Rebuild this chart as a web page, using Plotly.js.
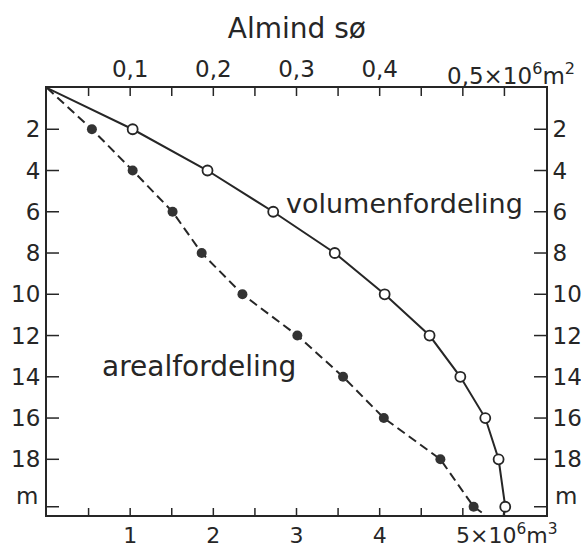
<!DOCTYPE html>
<html>
<head>
<meta charset="utf-8">
<script src="https://cdn.plot.ly/plotly-3.0.1.min.js"></script>
<style>html,body{margin:0;padding:0;background:#fff;}#chart{width:581px;height:548px;}</style>
</head>
<body>
<div id="chart"></div>
<script>
// depth in m (0 = surface, last value = bottom of axis)
const depth = [0, 2, 4, 6, 8, 10, 12, 14, 16, 18, 20.3, 20.7];
// volume above depth, 10^6 m^3 (bottom axis)
const volume = [0, 1.03, 1.93, 2.72, 3.46, 4.06, 4.60, 4.97, 5.27, 5.43, 5.51, 5.49];
// area, 10^6 m^2 (top axis)
const area = [0, 0.054, 0.103, 0.151, 0.186, 0.235, 0.301, 0.356, 0.405, 0.473, 0.513, 0.527];

const bottomTickVals = [0.5, 1, 1.5, 2, 2.5, 3, 3.5, 4, 4.5, 5, 5.5];
const bottomTickText = [" ", "1", " ", "2", " ", "3", " ", "4", " ", " ", " "];
const topTickVals = [0.05, 0.1, 0.15, 0.2, 0.25, 0.3, 0.35, 0.4, 0.45, 0.5, 0.55];
const topTickText = [" ", "0,1", " ", "0,2", " ", "0,3", " ", "0,4", " ", " ", " "];
const depthTickVals = [2, 4, 6, 8, 10, 12, 14, 16, 18, 20.3];
const depthTickText = ["2", "4", "6", "8", "10", "12", "14", "16", "18", " "];
const depthUnit = "m";
const depthUnitPos = 19.8;

const X_RANGE = [0, 6];
const X2_RANGE = [0, 0.6];
const Y_RANGE = [20.7, 0];

const INK = '#262626';
const FONT = 'DejaVu Sans';

// plot area size in px (from layout below) to express tick length in axis units
const W = 581, H = 548, M = {l: 47, r: 35, t: 88, b: 33};
const plotW = W - M.l - M.r, plotH = H - M.t - M.b;
const yPerPx = (Y_RANGE[0] - Y_RANGE[1]) / plotH;
const xPerPx = (X_RANGE[1] - X_RANGE[0]) / plotW;

const ptDepth = depth.slice(1, -1);
const ptVolume = volume.slice(1, -1);
const ptArea = area.slice(1, -1);

function segs(vals, mk) {
  const xs = [], ys = [];
  vals.forEach(v => { const s = mk(v); xs.push(s[0], s[1], null); ys.push(s[2], s[3], null); });
  return {x: xs, y: ys};
}
const bt = segs(bottomTickVals, v => [v, v, Y_RANGE[0], Y_RANGE[0] - 7 * yPerPx]);
const tt = segs(topTickVals, v => [v, v, Y_RANGE[1], Y_RANGE[1] + 8 * yPerPx]);
const lt = segs(depthTickVals, v => [X_RANGE[0], X_RANGE[0] + 12 * xPerPx, v, v]);
const rt = segs(depthTickVals, v => [X_RANGE[1], X_RANGE[1] - 12 * xPerPx, v, v]);

const tickLine = {color: INK, width: 1.5};
const traces = [
  {x: bt.x, y: bt.y, xaxis: 'x', yaxis: 'y', mode: 'lines', type: 'scatter', line: tickLine, hoverinfo: 'skip', showlegend: false},
  {x: tt.x, y: tt.y, xaxis: 'x2', yaxis: 'y2', mode: 'lines', type: 'scatter', line: tickLine, hoverinfo: 'skip', showlegend: false},
  {x: lt.x, y: lt.y, xaxis: 'x', yaxis: 'y', mode: 'lines', type: 'scatter', line: tickLine, hoverinfo: 'skip', showlegend: false},
  {x: rt.x, y: rt.y, xaxis: 'x', yaxis: 'y', mode: 'lines', type: 'scatter', line: tickLine, hoverinfo: 'skip', showlegend: false},
  {x: volume, y: depth, xaxis: 'x', yaxis: 'y', mode: 'lines', type: 'scatter',
   line: {color: INK, width: 2}, hoverinfo: 'skip', showlegend: false},
  {x: ptVolume, y: ptDepth, xaxis: 'x', yaxis: 'y', mode: 'markers', type: 'scatter',
   marker: {symbol: 'circle', size: 10, color: '#ffffff', line: {color: INK, width: 1.8}},
   hoverinfo: 'skip', showlegend: false},
  {x: area, y: depth, xaxis: 'x2', yaxis: 'y2', mode: 'lines', type: 'scatter',
   line: {color: INK, width: 2, dash: '9px,5px'}, hoverinfo: 'skip', showlegend: false},
  {x: ptArea, y: ptDepth, xaxis: 'x2', yaxis: 'y2', mode: 'markers', type: 'scatter',
   marker: {symbol: 'circle', size: 10, color: '#333333', line: {width: 0}},
   hoverinfo: 'skip', showlegend: false}
];

const axisCommon = {
  showgrid: false, zeroline: false, showline: true, linecolor: INK, linewidth: 2,
  ticks: '', tickmode: 'array', tickfont: {family: FONT, size: 23, color: INK}
};

const layout = {
  width: W, height: H, margin: M,
  paper_bgcolor: '#ffffff', plot_bgcolor: '#ffffff',
  title: {text: 'Almind sø', font: {family: FONT, size: 28, color: INK},
          x: 0.511, xanchor: 'center', y: 0.949, yanchor: 'middle'},
  xaxis: Object.assign({}, axisCommon, {range: X_RANGE, side: 'bottom', anchor: 'y',
    tickvals: bottomTickVals, ticktext: bottomTickText,
    tickfont: {family: FONT, size: 22, color: INK}}),
  xaxis2: Object.assign({}, axisCommon, {range: X2_RANGE, side: 'top', overlaying: 'x', anchor: 'y',
    tickvals: topTickVals, ticktext: topTickText}),
  yaxis: Object.assign({}, axisCommon, {range: Y_RANGE, side: 'left', anchor: 'x',
    tickvals: depthTickVals, ticktext: depthTickText}),
  yaxis2: Object.assign({}, axisCommon, {range: Y_RANGE, side: 'right', overlaying: 'y', anchor: 'x',
    tickvals: depthTickVals, ticktext: depthTickText}),
  annotations: [
    {text: 'volumenfordeling', xref: 'x', yref: 'y', x: 4.3, y: 5.6,
     showarrow: false, xanchor: 'center', yanchor: 'middle',
     font: {family: FONT, size: 27, color: INK}},
    {text: 'arealfordeling', xref: 'x', yref: 'y', x: 1.83, y: 13.5,
     showarrow: false, xanchor: 'center', yanchor: 'middle',
     font: {family: FONT, size: 28, color: INK}},
    {text: '0,5×10<sup>6</sup>m<sup>2</sup>', xref: 'x2', yref: 'paper', x: 0.5, y: 1.033,
     xshift: -18, showarrow: false, xanchor: 'left', yanchor: 'middle',
     font: {family: FONT, size: 23, color: INK}},
    {text: '5×10<sup>6</sup>m<sup>3</sup>', xref: 'x', yref: 'paper', x: 5, y: -0.045,
     xshift: -9, showarrow: false, xanchor: 'left', yanchor: 'middle',
     font: {family: FONT, size: 22, color: INK}},
    {text: depthUnit, xref: 'paper', yref: 'y', x: 0, y: depthUnitPos,
     xshift: -7, showarrow: false, xanchor: 'right', yanchor: 'middle',
     font: {family: FONT, size: 23, color: INK}},
    {text: depthUnit, xref: 'paper', yref: 'y', x: 1, y: depthUnitPos,
     xshift: 7, showarrow: false, xanchor: 'left', yanchor: 'middle',
     font: {family: FONT, size: 23, color: INK}}
  ]
};

Plotly.newPlot('chart', traces, layout, {displayModeBar: false, staticPlot: true});
</script>
</body>
</html>
